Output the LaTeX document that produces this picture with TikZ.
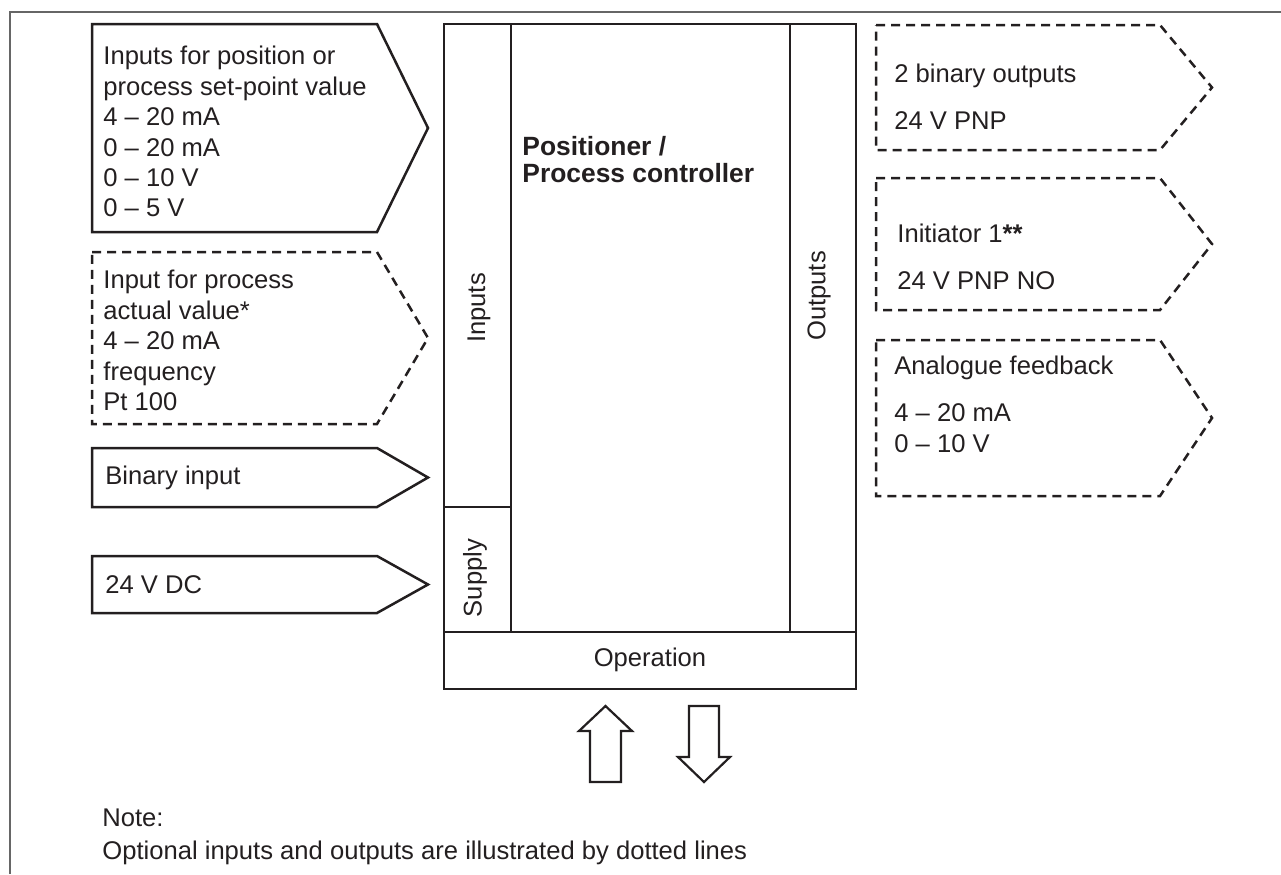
\documentclass[tikz,border=0pt]{standalone}
\usepackage{fontspec}
\setmainfont{Liberation Sans}
\definecolor{ink}{HTML}{231F20}

\begin{document}
\begin{tikzpicture}[x=0.5pt,y=-0.5pt,
	font=\fontsize{12.8}{15.2}\selectfont,
	box/.style={line width=1.25pt,color=ink},
	optbox/.style={box,dash pattern=on 4.5pt off 3pt},
	arr/.style={line width=1.1pt,color=ink},
	txt/.style={inner sep=0pt,align=left,text=ink}]
		\useasboundingbox (0,0) rectangle (1281,874);
		% \draw[step=100] (0,0) grid (1281,874);
		\draw[line width=0.7pt,color=black!60] (10,874) -- (10,12) -- (1281,12);
		% inputs on the left
		\draw[box] (92,24) -- (377,24) -- (428,128) -- (377,232) -- (92,232) -- cycle;
		\draw[optbox] (92,252) -- (377,252) -- (428,338) -- (377,424) -- (92,424) -- cycle;
		\draw[box] (92,448) -- (377,448) -- (428,477.5) -- (377,507) -- (92,507) -- cycle;
		\draw[box] (92,556) -- (377,556) -- (428,584.5) -- (377,613) -- (92,613) -- cycle;
		\node[txt,anchor=north west] (n1) at (103,46) {Inputs for position or\\process set-point value\\4 – 20 mA\\0 – 20 mA\\0 – 10 V\\0 – 5 V};
		\node[txt,anchor=north west] (n2) at (103,270) {Input for process\\actual value*\\4 – 20 mA\\frequency\\Pt 100};
		\node[txt,anchor=west] (n3) at (105,477.5) {Binary input};
		\node[txt,anchor=west] (n4) at (105,584.5) {24 V DC};
		% device
		\draw[box] (444,24) rectangle (856,689);
		\draw[box] (511,24) -- (511,632);
		\draw[box] (790,24) -- (790,632);
		\draw[box] (444,632) -- (856,632);
		\draw[box] (444,507) -- (511,507);
		\node[txt,rotate=90] (n5) at (479,308) {Inputs};
		\node[txt,rotate=90] (n6) at (475,578) {Supply};
		\node[txt,rotate=90] (n7) at (819,296) {Outputs};
		\node[txt] (n8) at (650,660) {Operation};
		\node[txt,anchor=north west,font=\fontsize{13.2}{13.5}\selectfont\bfseries] (n9) at (522,136) {Positioner /\\Process controller};
		% outputs on the right
		\draw[optbox] (876,25) -- (1160,25) -- (1212,87.5) -- (1160,150) -- (876,150) -- cycle;
		\draw[optbox] (876,178) -- (1160,178) -- (1212,244) -- (1160,310) -- (876,310) -- cycle;
		\draw[optbox] (876,340) -- (1160,340) -- (1212,418) -- (1160,496) -- (876,496) -- cycle;
		\node[txt,anchor=north west] (n10) at (894,64) {2 binary outputs\\[8.3pt]24 V PNP};
		\node[txt,anchor=north west] (n11) at (897,224) {Initiator 1\textbf{**}\\[8.3pt]24 V PNP NO};
		\node[txt,anchor=north west] (n12) at (894,356) {Analogue feedback\\[8.3pt]4 – 20 mA\\0 – 10 V};
		% operation arrows
		\draw[arr] (590,782) -- (590,731) -- (579,731) -- (605.5,706) -- (632,731) -- (621,731) -- (621,782) -- cycle;
		\draw[arr] (689,706) -- (719,706) -- (719,757) -- (730,757) -- (704,782) -- (678,757) -- (689,757) -- cycle;
		\node[txt,anchor=north west] (n13) at (102,808) {Note:\\[1.3pt]Optional inputs and outputs are illustrated by dotted lines};
\end{tikzpicture}
\end{document}
